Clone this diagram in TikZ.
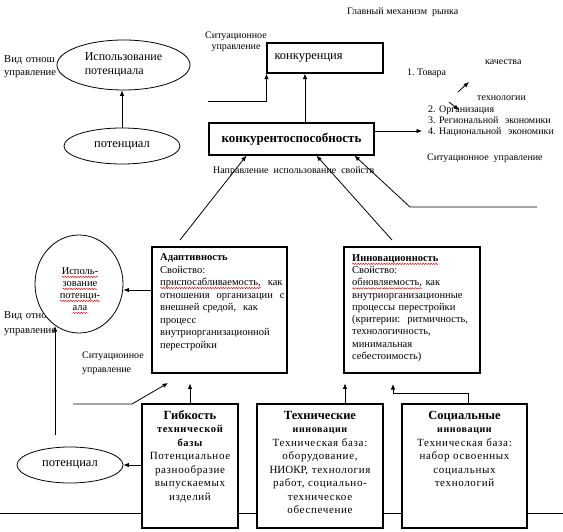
\documentclass[tikz,border=0pt]{standalone}
\usepackage{fontspec}
\setmainfont{Liberation Serif}
\newfontfamily\spc[LetterSpace=6]{Liberation Serif}
\usetikzlibrary{arrows.meta,shapes.geometric,decorations.pathmorphing}
\newsavebox\rwbox
\newlength\rwlen
\newcommand\rwave[1]{\leavevmode\sbox\rwbox{#1}\setlength\rwlen{\wd\rwbox}\rlap{\tikz[overlay,x=1pt,y=1pt,baseline=0pt]\draw[red,line width=0.45pt,decorate,decoration={snake,amplitude=0.7pt,segment length=2.6pt}] (0,-2.4) -- (\rwlen,-2.4);}\usebox\rwbox}
\frenchspacing
\tikzset{
  ln/.style={line width=0.8pt},
  arr/.style={ln,-{Latex[length=5.5pt,width=4.5pt]}},
  box/.style={draw,line width=1.1pt,fill=white,inner sep=0pt},
  ell/.style={draw,ellipse,fill=white,line width=0.8pt,inner sep=1pt},
  txt/.style={inner sep=0pt,font=\fontsize{10}{11}\selectfont},
  btxt/.style={inner sep=0pt,anchor=base,align=center,font=\spc\fontsize{11}{13.57}\selectfont},
}
\begin{document}
\begin{tikzpicture}[x=1pt,y=-1pt]
\fill[white] (0,0) rectangle (563,532);
\useasboundingbox (0,0) rectangle (563,532);

% ---------- top left ----------
\node[txt,anchor=base west,text width=70pt,align=left,font=\fontsize{10.6}{13}\selectfont] (vid1) at (4,62.5) {Вид отнош\\управление};
\node[ell,minimum width=133,minimum height=50,font=\fontsize{12}{14}\selectfont,align=left] (use) at (123.5,65) {Использование\\потенциала};
\node[ell,minimum width=116,minimum height=36,font=\fontsize{12.5}{14}\selectfont] (pot1) at (122,146) {потенциал};
\draw[arr] (pot1.north) -- (pot1.north |- use.south);

% ---------- top middle ----------
\node[txt,anchor=base west] (title) at (347,14.5) {Главный механизм\ \ рынка};
\node[txt,anchor=base,text width=70pt,align=center] (sit1) at (236,38.5) {Ситуационное\\управление};
\node[box,minimum width=116,minimum height=30,text width=101pt,align=left,font=\fontsize{12.5}{14}\selectfont] (konk) at (325,58) {конкуренция};
\node[box,minimum width=165,minimum height=32,font=\bfseries\fontsize{13}{14}\selectfont] (konk2) at (291.5,139) {конкурентоспособность};
\coordinate (c1) at (208,101);
\draw[arr] (c1) -| (konk.south west);
\draw[arr] ([xshift=13.5pt]konk2.north) -- ([xshift=13.5pt]konk2.north |- konk.south);

% ---------- top right ----------
\node[txt,anchor=base west] (t1) at (407,75.5) {1. Товара};
\node[txt,anchor=base west] (kach) at (485,64.5) {качества};
\node[txt,anchor=base west] (techn) at (477,100.5) {технологии};
\node[txt,anchor=base west,text width=140pt,align=left] (lst) at (428,112.5) {2. Организация\\3. Региональной\ \ экономики\\4. Национальной\ \ экономики};
\coordinate (k1) at (458,92); \coordinate (k2) at (469,82);
\draw[arr] (k1) -- (k2);
\coordinate (k3) at (449,102); \coordinate (k4) at (459,110);
\draw[arr] (k3) -- (k4);
\coordinate (l4) at (422,131);
\draw[arr] (konk2.east |- l4) -- (l4);
\node[txt,anchor=base west] (sit2) at (427,160.5) {Ситуационное\ \ управление};
\node[txt,anchor=base west] (napr) at (213,173.5) {Направление\ \ использование\ \ свойств};

% ---------- diagonal arrows ----------
\coordinate (d1) at (180,240);
\coordinate (d2) at (392,240);
\coordinate (d3) at (537,207);
\coordinate (d3b) at (410,207);
\draw[arr] (d1) -- ([xshift=38pt]konk2.south west);
\draw[arr] (d2) -- ([xshift=108pt]konk2.south west);
\draw[arr] (d3) -- (d3b) -- ([xshift=146pt]konk2.south west);

% ---------- middle ----------
\node[txt,anchor=base west,text width=70pt,align=left,font=\fontsize{10.6}{15}\selectfont] (vid2) at (4,318.5) {Вид отнош\\управление};
\node[ell,minimum width=88,minimum height=98] (circ) at (79,284) {};
\node[txt,anchor=base,text width=60pt,align=center,font=\fontsize{10.5}{12}\selectfont] (circt) at (80,274.5) {\rwave{Исполь-}\\\rwave{зование}\\\rwave{потенци-}\\\rwave{ала}};
\node[txt,anchor=base west,text width=70pt,align=left,font=\fontsize{10}{14}\selectfont] (sit3) at (82,358.5) {Ситуационное\\управление};

\node[box,minimum width=135,minimum height=126] (adapt) at (219.5,310) {};
\node[txt,anchor=base west,text width=125pt,align=left,font=\fontsize{10.5}{12.57}\selectfont] (adaptt) at (160,260.5) {\textbf{Адаптивность}\\Свойство:\\\rwave{приспосабливаемость,}\ \ как\\отношения\ \ организации\ \ с\\внешней средой,\ \ как\\процесс\\внутриорганизационной\\перестройки};

\node[box,minimum width=136,minimum height=126] (innov) at (412,310) {};
\node[txt,anchor=base west,text width=125pt,align=left,font=\fontsize{10.5}{12.25}\selectfont] (innovt) at (352,261.5) {\rwave{\textbf{Инновационность}}\\Свойство:\\\rwave{обновляемость,} как\\внутриорганизационные\\процессы перестройки\\(критерии:\ \ ритмичность,\\технологичность,\\минимальная\\себестоимость)};

\coordinate (ar1) at (152,290);
\draw[arr] (ar1) -- (circ.east |- ar1);
\coordinate (v1) at (55,435); \coordinate (v2) at (55,326);
\draw[arr] (v1) -- (v2);
\coordinate (a1) at (73,404); \coordinate (a2) at (132,404); \coordinate (a3) at (168,383);
\draw[arr] (a1) -- (a2) -- (a3);

% ---------- bottom ----------
\node[box,minimum width=96,minimum height=124] (flex) at (190,466) {};
\node[btxt,text width=96pt] (flext) at (190,419) {{\rmfamily\bfseries\fontsize{12.5}{13.57}\selectfont Гибкость}\\{\bfseries\fontsize{10.5}{13.57}\selectfont технической}\\{\bfseries\fontsize{10.5}{13.57}\selectfont базы}\\Потенциальное\\разнообразие\\выпускаемых\\изделий};

\node[box,minimum width=126,minimum height=124] (tech) at (320,466) {};
\node[btxt,text width=126pt] (techt) at (320,419) {{\rmfamily\bfseries\fontsize{12.5}{13.57}\selectfont Технические}\\{\bfseries\fontsize{10}{13.57}\selectfont инновации}\\Техническая база:\\оборудование,\\{\rmfamily НИОКР,} технология\\работ, социально-\\техническое\\обеспечение};

\node[box,minimum width=125,minimum height=124] (soc) at (464.5,466) {};
\node[btxt,text width=125pt] (soct) at (464.5,419) {{\rmfamily\bfseries\fontsize{12.5}{13.57}\selectfont Социальные}\\{\bfseries\fontsize{10}{13.57}\selectfont инновации}\\Техническая база:\\набор освоенных\\социальных\\технологий};

\draw[arr] (flex.north) -- ++(0,-20);
\draw[arr] ([xshift=25pt]tech.north) -- ++(0,-20);
\coordinate (s2) at (393,384);
\draw[arr] ([xshift=3.5pt]soc.north) -- ++(0,-10) -| (s2);

\node[ell,minimum width=106,minimum height=36,font=\fontsize{12.5}{14}\selectfont] (pot2) at (70,465) {потенциал};
\draw[arr] (flex.west |- pot2) -- (pot2.east);

\coordinate (bl) at (0,513); \coordinate (br) at (563,513);
\draw[ln] (bl) -- (bl -| flex.west);
\draw[ln] (bl -| flex.east) -- (bl -| tech.west);
\draw[ln] (bl -| tech.east) -- (bl -| soc.west);
\draw[ln] (bl -| soc.east) -- (br);
\end{tikzpicture}
\end{document}
